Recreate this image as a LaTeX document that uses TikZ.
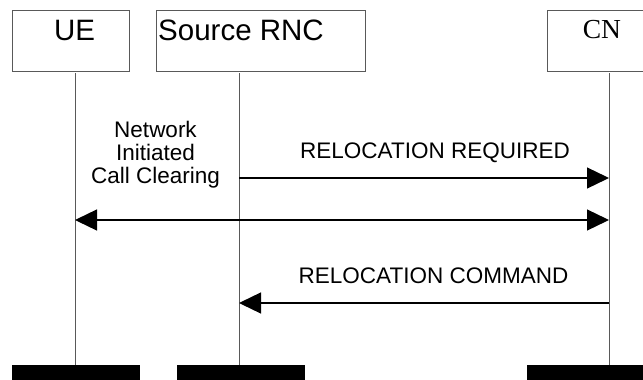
\documentclass[tikz,border=0pt]{standalone}
\usepackage{fontspec}
\setmainfont{Liberation Sans}
\newfontfamily\cnfont{Liberation Serif}
\usetikzlibrary{arrows.meta}
\tikzset{
  entity/.style={draw=black!65, line width=1pt, fill=white, inner sep=0pt},
  title/.style={anchor=base, inner sep=0pt, font=\fontsize{29.5}{30}\selectfont},
  lifeline/.style={draw=black!65, line width=1pt},
  msg/.style={draw=black, line width=1.3pt, -{Triangle[length=22pt,width=21pt]}},
  dmsg/.style={draw=black, line width=1.3pt, {Triangle[length=22pt,width=21pt]}-{Triangle[length=22pt,width=21pt]}},
  lbl/.style={anchor=base, inner sep=0pt, font=\fontsize{22.5}{23}\selectfont, align=center},
  endbar/.style={fill=black, draw=none}
}
\begin{document}
\begin{tikzpicture}[x=1pt,y=-1pt]
\useasboundingbox (0,0) rectangle (643,380);
\clip (0,0) rectangle (643,380);
% entity boxes
\node[entity, minimum width=117pt, minimum height=61pt] (ue) at (70.5,40.5) {};
\node[entity, minimum width=209pt, minimum height=61pt] (rnc) at (260.5,40.5) {};
\node[entity, minimum width=113pt, minimum height=61pt] (cn) at (603.5,40.5) {};
\node[title] (uet) at (74.5,40) {UE};
\node[title, anchor=base west] (rnct) at (158,40) {Source RNC};
\node[anchor=base, inner sep=0pt, font=\cnfont\fontsize{27.5}{28}\selectfont] (cnt) at (602,38) {CN};
% lifeline coordinates
\coordinate (ueT) at (75,73);
\coordinate (ueB) at (75,365);
\coordinate (rncT) at (239,73);
\coordinate (rncB) at (239,365);
\coordinate (cnT) at (609,73);
\coordinate (cnB) at (609,365);
\draw[lifeline] (ueT) -- (ueB);
\draw[lifeline] (rncT) -- (rncB);
\draw[lifeline] (cnT) -- (cnB);
% message points
\coordinate (m1s) at (239,178);
\coordinate (m1e) at (609,178);
\coordinate (m2s) at (75,220);
\coordinate (m2e) at (609,220);
\coordinate (m3s) at (609,303);
\coordinate (m3e) at (239,303);
\draw[msg] (m1s) -- (m1e);
\draw[dmsg] (m2s) -- (m2e);
\draw[msg] (m3s) -- (m3e);
% labels
\node[lbl] (l1) at (435,158) {RELOCATION REQUIRED};
\node[lbl] (l3) at (433.5,283) {RELOCATION COMMAND};
\node[lbl] (n1) at (155.5,137) {Network};
\node[lbl] (n2) at (155.5,160) {Initiated};
\node[lbl] (n3) at (155.5,183) {Call Clearing};
% end bars
\fill[endbar] (12,365) rectangle (140,380);
\fill[endbar] (177,365) rectangle (305,380);
\fill[endbar] (527,365) rectangle (643,380);
\end{tikzpicture}
\end{document}
